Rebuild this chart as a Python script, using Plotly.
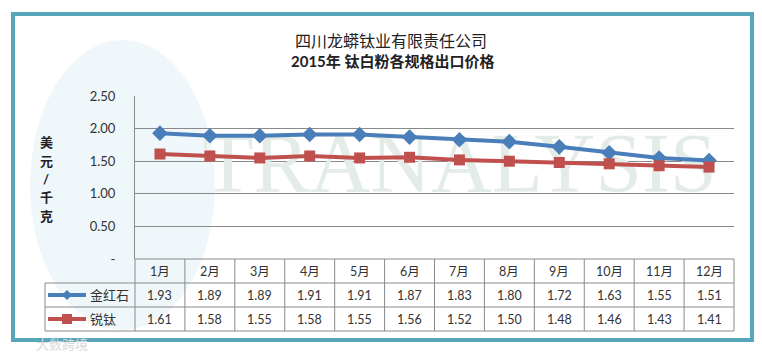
import plotly.graph_objects as go

months = ["1月", "2月", "3月", "4月", "5月", "6月", "7月", "8月", "9月", "10月", "11月", "12月"]
rutile = [1.93, 1.89, 1.89, 1.91, 1.91, 1.87, 1.83, 1.80, 1.72, 1.63, 1.55, 1.51]
anatase = [1.61, 1.58, 1.55, 1.58, 1.55, 1.56, 1.52, 1.50, 1.48, 1.46, 1.43, 1.41]
series_names = ["金红石", "锐钛"]
y_tickvals = [0, 0.5, 1.0, 1.5, 2.0, 2.5]
y_ticktext = ["-", "0.50", "1.00", "1.50", "2.00", "2.50"]
title_line1 = "四川龙蟒钛业有限责任公司"
title_line2 = "2015年 钛白粉各规格出口价格"
y_title = "美元/千克"

W, H = 762, 353
L, R, T, B = 135, 734, 96, 259
BLUE = "#4a7ebb"
RED = "#c0504d"
GRID = "#8a8a8a"
TXT = "#333333"
FONT = "Lato, 'Noto Sans CJK SC', sans-serif"


def px(x):
    return (x - L) / (R - L)


def py(y):
    return (B - y) / (B - T)


fig = go.Figure()

# watermark text (first trace, so the lines are drawn on top)
fig.add_trace(go.Scatter(
    x=[months[6]], y=[1.35], mode="text", text=["TRANALYSIS"],
    textfont=dict(family="'Liberation Serif', serif", size=84, color="#e3ece7"),
    hoverinfo="skip", showlegend=False, cliponaxis=False))

fig.add_trace(go.Scatter(
    x=months, y=rutile, name=series_names[0], mode="lines+markers",
    line=dict(color=BLUE, width=4),
    marker=dict(symbol="diamond", size=12, color=BLUE),
    showlegend=False, cliponaxis=False))
fig.add_trace(go.Scatter(
    x=months, y=anatase, name=series_names[1], mode="lines+markers",
    line=dict(color=RED, width=4),
    marker=dict(symbol="square", size=11, color=RED),
    showlegend=False, cliponaxis=False))

shapes = []
# globe watermark
shapes.append(dict(type="circle", xref="paper", yref="paper", layer="below",
                   x0=px(30), x1=px(215), y0=py(330), y1=py(40),
                   fillcolor="#eff7fb", line=dict(width=0)))
# outer frame
shapes.append(dict(type="rect", xref="paper", yref="paper", layer="below",
                   x0=px(13), x1=px(752), y0=py(340), y1=py(14),
                   fillcolor="rgba(0,0,0,0)", line=dict(color="#58a6ba", width=4)))

# data table grid
rows_y = [259, 283, 307, 331]
for i, yy in enumerate(rows_y):
    x0 = L if i == 0 else 45
    shapes.append(dict(type="line", xref="paper", yref="paper",
                       x0=px(x0), x1=px(R), y0=py(yy), y1=py(yy),
                       line=dict(color=GRID, width=1)))
ncol = len(months)
colw = (R - L) / ncol
for k in range(ncol + 1):
    xx = L + k * colw
    shapes.append(dict(type="line", xref="paper", yref="paper",
                       x0=px(xx), x1=px(xx), y0=py(259), y1=py(331),
                       line=dict(color=GRID, width=1)))
shapes.append(dict(type="line", xref="paper", yref="paper",
                   x0=px(45), x1=px(45), y0=py(283), y1=py(331),
                   line=dict(color=GRID, width=1)))

# legend keys in table
for yy, col in [(295, BLUE), (319, RED)]:
    shapes.append(dict(type="line", xref="paper", yref="paper",
                       x0=px(48), x1=px(86), y0=py(yy), y1=py(yy),
                       line=dict(color=col, width=4)))
cx, cy = 67, 295
shapes.append(dict(type="path", xref="paper", yref="paper",
                   path=f"M {px(cx-5)} {py(cy)} L {px(cx)} {py(cy-5)} L {px(cx+5)} {py(cy)} L {px(cx)} {py(cy+5)} Z",
                   fillcolor=BLUE, line=dict(width=0)))
cx, cy = 67, 319
shapes.append(dict(type="rect", xref="paper", yref="paper",
                   x0=px(cx-5), x1=px(cx+5), y0=py(cy+5), y1=py(cy-5),
                   fillcolor=RED, line=dict(width=0)))

annotations = []
annotations.append(dict(text=title_line1, x=px(391), y=py(40), xref="paper", yref="paper",
                        showarrow=False, font=dict(size=16, color="#222", family=FONT),
                        xanchor="center", yanchor="middle"))
annotations.append(dict(text="<b>" + title_line2 + "</b>", x=px(392), y=py(61), xref="paper", yref="paper",
                        showarrow=False, font=dict(size=15, color="#222", family=FONT),
                        xanchor="center", yanchor="middle"))
for ch, yy in zip(list(y_title), [142, 161, 179, 197, 216]):
    annotations.append(dict(text="<b>" + ch + "</b>", x=px(46), y=py(yy),
                            xref="paper", yref="paper", showarrow=False,
                            font=dict(size=13, color="#222", family=FONT),
                            xanchor="center", yanchor="middle"))
annotations.append(dict(text="大数跨境", x=px(62), y=py(344), xref="paper", yref="paper",
                        showarrow=False, font=dict(size=13, color="#d8d8d8", family=FONT),
                        xanchor="center", yanchor="middle"))

for m, a, b in zip(months, rutile, anatase):
    annotations.append(dict(text=m, x=m, xref="x", y=py(271), yref="paper", showarrow=False,
                            font=dict(size=12.5, color=TXT, family=FONT), yanchor="middle"))
    annotations.append(dict(text=f"{a:.2f}", x=m, xref="x", y=py(295), yref="paper", showarrow=False,
                            font=dict(size=12.5, color=TXT, family=FONT), yanchor="middle"))
    annotations.append(dict(text=f"{b:.2f}", x=m, xref="x", y=py(319), yref="paper", showarrow=False,
                            font=dict(size=12.5, color=TXT, family=FONT), yanchor="middle"))
for name, yy in zip(series_names, [295, 319]):
    annotations.append(dict(text=name, x=px(88), y=py(yy), xref="paper", yref="paper",
                            showarrow=False, xanchor="left", yanchor="middle",
                            font=dict(size=13, color=TXT, family=FONT)))

fig.update_layout(
    width=W, height=H,
    margin=dict(l=L, r=W - R, t=T, b=H - B, pad=0),
    paper_bgcolor="white", plot_bgcolor="rgba(0,0,0,0)",
    shapes=shapes, annotations=annotations,
    font=dict(family=FONT, color=TXT),
    xaxis=dict(type="category", categoryorder="array", categoryarray=months,
               range=[-0.5, ncol - 0.5], showticklabels=False,
               showgrid=False, zeroline=False, showline=False, fixedrange=True),
    yaxis=dict(range=[0, 2.5], tickvals=y_tickvals, ticktext=y_ticktext,
               showgrid=True, gridcolor=GRID, gridwidth=1, zeroline=False,
               showline=True, linecolor=GRID, linewidth=1, ticks="",
               ticklabelstandoff=16, tickfont=dict(size=13, color=TXT, family=FONT)),
)

fig.write_html("out.html")
